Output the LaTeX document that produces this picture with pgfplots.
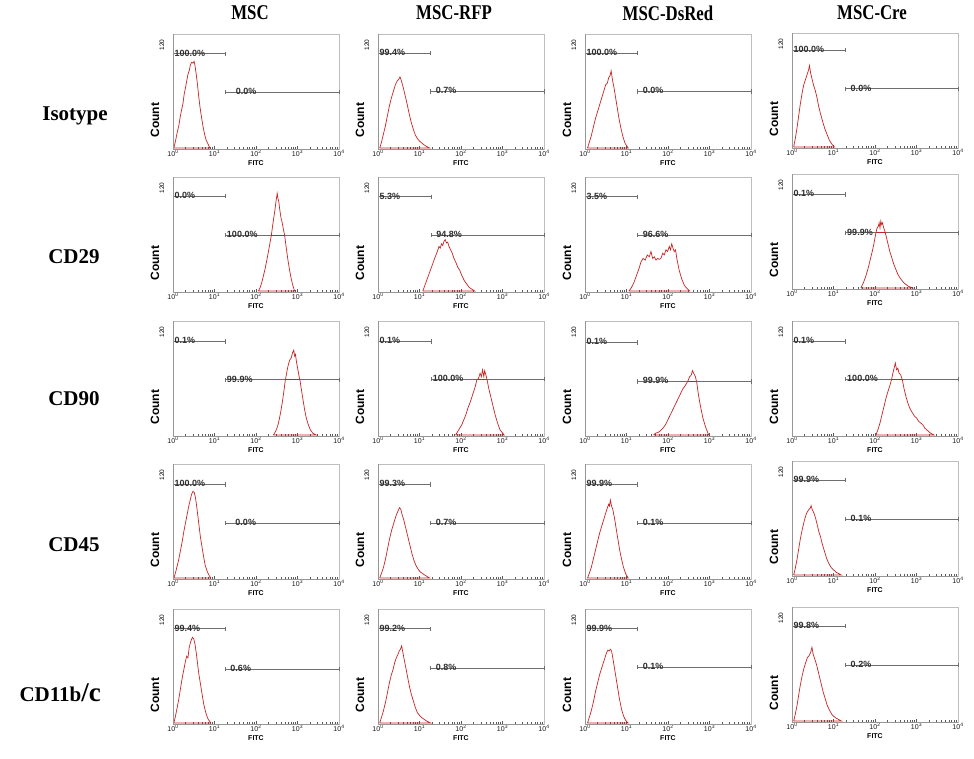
\documentclass[border=0pt]{standalone}
\usepackage{pgfplots}
\pgfplotsset{compat=1.18}
\usepackage{fontspec}
\setmainfont{Liberation Sans}
\newfontfamily\hdfont{Liberation Serif}
\definecolor{histred}{RGB}{200,35,35}
\definecolor{gatecol}{RGB}{110,110,110}
\definecolor{framecol}{RGB}{190,190,190}
\definecolor{axcol}{RGB}{150,150,150}

\tikzset{
  lbl/.style={font=\fontsize{9}{9}\selectfont\bfseries, text=black!82, anchor=west, inner sep=0pt, xshift=1.5pt, yshift=0.8pt},
  lblr/.style={lbl, xshift=3.5pt},
}
\pgfplotsset{
  panel/.style={
    scale only axis, width=166pt, height=115pt,
    xmin=0,xmax=4,ymin=-1.2,ymax=133,
    anchor=south west,
    axis line style={framecol, line width=0.6pt},
    xtick={0,1,2,3,4},
    xticklabels={10\textsuperscript{0},10\textsuperscript{1},10\textsuperscript{2},10\textsuperscript{3},10\textsuperscript{4}},
    minor xtick={0.301,0.477,0.602,0.699,0.778,0.845,0.903,0.954,
                 1.301,1.477,1.602,1.699,1.778,1.845,1.903,1.954,
                 2.301,2.477,2.602,2.699,2.778,2.845,2.903,2.954,
                 3.301,3.477,3.602,3.699,3.778,3.845,3.903,3.954},
    ytick=\empty,
    xtick pos=bottom,
    tick align=inside,
    major tick length=3.5pt, minor tick length=2.4pt,
    every tick/.style={black!65, line width=0.5pt},
    xticklabel style={font=\fontsize{7}{7}\selectfont, text=black!90, inner sep=1pt},
    clip=false,
    extra description/.code={
      \draw[axcol, line width=0.7pt] (0,1) -- (0,0) -- (1,0);
      \node[rotate=90,font=\fontsize{12}{12}\selectfont\bfseries] at (-0.108,0.25) {Count};
      \node[rotate=90,font=\fontsize{6.5}{6.5}\selectfont] at (-0.067,0.904) {120};
      \node[font=\fontsize{7}{7}\selectfont\bfseries] at (0.5,-0.125) {FITC};
    },
  },
  hist/.style={histred, line width=0.7pt, no markers},
  gate/.style={gatecol, line width=0.6pt, mark=|, mark size=2.2pt, mark options={gatecol,line width=0.6pt,solid}},
  redgate/.style={histred, line width=0.6pt, no markers},
}

\begin{document}
\begin{tikzpicture}
\useasboundingbox (0pt,0pt) rectangle (974pt,-758pt);

% column headers
\begin{scope}[every node/.style={font=\hdfont\bfseries\fontsize{21}{21}\selectfont}]
\node at (250pt,-13pt) {\scalebox{0.8}[1]{MSC}};
\node at (454pt,-13pt) {\scalebox{0.8}[1]{MSC-RFP}};
\node at (668pt,-13pt) {\scalebox{0.8}[1]{MSC-DsRed}};
\node at (872pt,-13pt) {\scalebox{0.8}[1]{MSC-Cre}};
% row labels
\node at (75pt,-116pt) {Isotype};
\node at (74pt,-257pt) {CD29};
\node at (74pt,-399pt) {CD90};
\node at (74pt,-545pt) {CD45};
\node[anchor=west] at (16pt,-693pt) {CD11b{\fontsize{27}{27}\selectfont/c}};
\end{scope}

% ================= Row 1: Isotype =================
\begin{axis}[panel, at={(173pt,-149pt)}]
\addplot[hist] coordinates {(0.02,0) (0.06,8) (0.10,18) (0.14,26) (0.18,38) (0.21,45) (0.24,52) (0.27,63) (0.30,70) (0.33,78) (0.36,86) (0.39,90) (0.42,97) (0.45,100) (0.48,99) (0.51,101) (0.53,96) (0.56,86) (0.59,74) (0.62,60) (0.65,48) (0.68,38) (0.72,26) (0.76,16) (0.80,9) (0.85,4) (0.89,0) (0.02,0)};
\addplot[gate] coordinates {(0,110) (1.27,110)};
\addplot[gate] coordinates {(1.27,65) (4,65)};
\node[lbl] at (axis cs:0,110) {100.0\%};
\node[lblr, xshift=5pt] at (axis cs:1.27,65) {0.0\%};
\end{axis}

\begin{axis}[panel, at={(378pt,-149pt)}]
\addplot[hist] coordinates {(0.04,0) (0.08,6) (0.12,14) (0.17,24) (0.22,36) (0.27,48) (0.32,58) (0.37,66) (0.42,74) (0.46,78) (0.50,80) (0.53,83) (0.56,79) (0.60,72) (0.64,64) (0.68,56) (0.72,47) (0.76,38) (0.80,30) (0.85,22) (0.90,15) (0.95,11) (1.00,8) (1.05,6) (1.10,4) (1.16,2) (1.24,0) (0.04,0)};
\addplot[gate] coordinates {(0,111) (1.27,111)};
\addplot[gate] coordinates {(1.27,66) (4,66)};
\node[lbl] at (axis cs:0,111) {99.4\%};
\node[lblr] at (axis cs:1.27,66) {0.7\%};
\end{axis}

\begin{axis}[panel, at={(585pt,-149pt)}]
\addplot[hist] coordinates {(0.06,0) (0.10,6) (0.15,14) (0.20,24) (0.25,34) (0.30,42) (0.35,50) (0.40,58) (0.45,66) (0.50,74) (0.54,76) (0.57,82) (0.60,84) (0.63,90) (0.66,80) (0.70,70) (0.74,58) (0.78,46) (0.82,34) (0.87,22) (0.92,12) (0.97,5) (1.04,0) (0.06,0)};
\addplot[gate] coordinates {(0,111) (1.27,111)};
\addplot[gate] coordinates {(1.27,66) (4,66)};
\node[lbl] at (axis cs:0,111) {100.0\%};
\node[lblr] at (axis cs:1.27,66) {0.0\%};
\end{axis}

\begin{axis}[panel, at={(792pt,-148pt)}]
\addplot[hist] coordinates {(0.04,0) (0.08,10) (0.12,22) (0.16,36) (0.20,50) (0.24,62) (0.28,72) (0.32,78) (0.36,84) (0.40,90) (0.42,95) (0.45,86) (0.48,80) (0.52,72) (0.56,66) (0.60,58) (0.64,48) (0.68,40) (0.72,33) (0.76,26) (0.80,20) (0.85,14) (0.90,8) (0.95,4) (1.02,0) (0.04,0)};
\addplot[gate] coordinates {(0,113) (1.29,113)};
\addplot[gate] coordinates {(1.29,68) (4,68)};
\node[lbl] at (axis cs:0,113) {100.0\%};
\node[lblr] at (axis cs:1.29,68) {0.0\%};
\end{axis}

% ================= Row 2: CD29 =================
\begin{axis}[panel, at={(173pt,-292pt)}]
\addplot[gate] coordinates {(0,111) (1.26,111)};
\addplot[gate] coordinates {(1.26,65) (4,65)};
\addplot[redgate] coordinates {(2.37,65) (2.69,65)};
\addplot[hist] coordinates {(2.06,0) (2.10,4) (2.14,10) (2.18,18) (2.22,26) (2.26,36) (2.30,46) (2.34,57) (2.37,65) (2.40,76) (2.43,86) (2.46,96) (2.48,104) (2.50,110) (2.51,114) (2.53,108) (2.55,104) (2.57,96) (2.60,86) (2.63,80) (2.66,72) (2.69,65) (2.73,50) (2.77,36) (2.81,24) (2.85,14) (2.89,6) (2.93,0) (2.06,0)};
\node[lbl] at (axis cs:0,111) {0.0\%};
\node[lbl] at (axis cs:1.26,65) {100.0\%};
\end{axis}

\begin{axis}[panel, at={(378pt,-292pt)}]
\addplot[hist] coordinates {(1.08,0) (1.14,8) (1.20,16) (1.26,24) (1.32,32) (1.38,40) (1.43,46) (1.47,52) (1.50,50) (1.53,55) (1.56,53) (1.59,58) (1.62,60) (1.65,56) (1.68,57) (1.71,52) (1.75,48) (1.79,44) (1.83,38) (1.87,34) (1.92,28) (1.97,24) (2.02,18) (2.08,12) (2.14,8) (2.20,4) (2.33,0) (1.08,0)};
\addplot[gate] coordinates {(0,110) (1.28,110)};
\addplot[gate] coordinates {(1.28,65) (4,65)};
\node[lbl] at (axis cs:0,110) {5.3\%};
\node[lblr] at (axis cs:1.28,65) {94.8\%};
\end{axis}

\begin{axis}[panel, at={(585pt,-292pt)}]
\addplot[hist] coordinates {(1.06,0) (1.12,4) (1.18,10) (1.24,18) (1.30,26) (1.35,34) (1.40,38) (1.45,36) (1.50,42) (1.55,40) (1.59,46) (1.63,38) (1.67,40) (1.71,36) (1.75,38) (1.79,37) (1.83,38) (1.87,44) (1.91,42) (1.95,48) (1.99,46) (2.03,52) (2.06,48) (2.09,55) (2.12,50) (2.15,46) (2.18,48) (2.22,36) (2.27,24) (2.33,14) (2.40,6) (2.52,0) (1.06,0)};
\addplot[gate] coordinates {(0,110) (1.27,110)};
\addplot[gate] coordinates {(1.27,65) (4,65)};
\node[lbl] at (axis cs:0,110) {3.5\%};
\node[lblr] at (axis cs:1.27,65) {96.6\%};
\end{axis}

\begin{axis}[panel, at={(792pt,-289pt)}]
\addplot[gate] coordinates {(0,109) (1.29,109)};
\addplot[gate] coordinates {(1.29,64.4) (4,64.4)};
\addplot[redgate] coordinates {(2.02,64.4) (2.25,64.4)};
\addplot[hist] coordinates {(1.66,0) (1.72,6) (1.78,14) (1.84,24) (1.90,36) (1.95,46) (1.99,56) (2.02,64) (2.05,70) (2.08,72) (2.10,76) (2.12,70) (2.14,78) (2.16,74) (2.18,76) (2.21,70) (2.24,66) (2.28,58) (2.32,50) (2.36,42) (2.40,36) (2.45,28) (2.50,22) (2.55,16) (2.60,12) (2.66,8) (2.72,5) (2.80,2) (2.91,0) (1.66,0)};
\node[lbl] at (axis cs:0,109) {0.1\%};
\node[lbl] at (axis cs:1.29,64.4) {99.9\%};
\end{axis}

% ================= Row 3: CD90 =================
\begin{axis}[panel, at={(173pt,-436pt)}]
\addplot[gate] coordinates {(0,109) (1.26,109)};
\addplot[gate] coordinates {(1.26,64.4) (4,64.4)};
\addplot[redgate] coordinates {(2.70,64.4) (3.06,64.4)};
\addplot[hist] coordinates {(2.42,0) (2.47,4) (2.52,10) (2.56,18) (2.60,28) (2.64,40) (2.68,54) (2.70,62) (2.73,70) (2.76,78) (2.79,84) (2.82,88) (2.85,90) (2.88,96) (2.91,99) (2.93,92) (2.95,94) (2.98,84) (3.01,76) (3.04,68) (3.06,64) (3.09,54) (3.13,42) (3.17,30) (3.21,20) (3.26,12) (3.31,6) (3.37,2) (3.45,0) (2.42,0)};
\node[lbl] at (axis cs:0,109) {0.1\%};
\node[lbl] at (axis cs:1.26,64.4) {99.9\%};
\end{axis}

\begin{axis}[panel, at={(378pt,-436pt)}]
\addplot[gate] coordinates {(0,109) (1.28,109)};
\addplot[gate] coordinates {(1.28,65) (4,65)};
\addplot[redgate] coordinates {(2.38,65) (2.63,65)};
\addplot[hist] coordinates {(1.87,0) (1.92,4) (1.97,8) (2.02,12) (2.07,18) (2.12,24) (2.17,32) (2.22,38) (2.26,44) (2.30,50) (2.34,56) (2.38,64) (2.42,66) (2.46,72) (2.49,68) (2.52,76) (2.55,68) (2.57,75) (2.60,70) (2.63,64) (2.67,54) (2.72,44) (2.77,34) (2.82,24) (2.88,14) (2.94,6) (3.04,0) (1.87,0)};
\node[lbl] at (axis cs:0,109) {0.1\%};
\node[lbl] at (axis cs:1.28,65) {100.0\%};
\end{axis}

\begin{axis}[panel, at={(585pt,-436pt)}]
\addplot[gate] coordinates {(0,108) (1.27,108)};
\addplot[gate] coordinates {(1.27,62.6) (4,62.6)};
\addplot[redgate] coordinates {(2.47,62.6) (2.69,62.6)};
\addplot[hist] coordinates {(1.65,0) (1.70,2) (1.76,3) (1.82,5) (1.88,8) (1.94,12) (2.00,18) (2.06,24) (2.12,30) (2.18,36) (2.24,42) (2.30,48) (2.36,54) (2.42,58) (2.48,63) (2.52,68) (2.56,70) (2.59,75) (2.62,72) (2.66,68) (2.69,62) (2.73,48) (2.78,34) (2.84,20) (2.90,10) (2.98,0) (1.65,0)};
\node[lbl] at (axis cs:0,108) {0.1\%};
\node[lblr] at (axis cs:1.27,62.6) {99.9\%};
\end{axis}

\begin{axis}[panel, at={(792pt,-436pt)}]
\addplot[gate] coordinates {(0,109) (1.29,109)};
\addplot[gate] coordinates {(1.29,65) (4,65)};
\addplot[redgate] coordinates {(2.40,65) (2.66,65)};
\addplot[hist] coordinates {(2.02,0) (2.07,6) (2.12,14) (2.17,24) (2.22,34) (2.27,44) (2.32,52) (2.36,58) (2.40,65) (2.43,72) (2.46,78) (2.49,84) (2.52,76) (2.55,78) (2.58,72) (2.62,70) (2.66,64) (2.70,54) (2.75,44) (2.80,36) (2.85,30) (2.90,26) (2.95,22) (3.00,20) (3.05,16) (3.10,14) (3.15,12) (3.20,8) (3.27,5) (3.34,2) (3.42,0) (2.02,0)};
\node[lbl] at (axis cs:0,109) {0.1\%};
\node[lbl] at (axis cs:1.29,65) {100.0\%};
\end{axis}

% ================= Row 4: CD45 =================
\begin{axis}[panel, at={(173pt,-579pt)}]
\addplot[hist] coordinates {(0.02,0) (0.06,6) (0.10,14) (0.14,22) (0.18,32) (0.22,42) (0.26,54) (0.30,64) (0.34,74) (0.38,84) (0.42,92) (0.45,98) (0.48,101) (0.51,100) (0.54,94) (0.57,84) (0.60,72) (0.63,60) (0.66,48) (0.70,36) (0.74,24) (0.78,14) (0.83,7) (0.87,3) (0.91,0) (0.02,0)};
\addplot[gate] coordinates {(0,109) (1.26,109)};
\addplot[gate] coordinates {(1.26,64) (4,64)};
\node[lbl] at (axis cs:0,109) {100.0\%};
\node[lblr, xshift=5pt] at (axis cs:1.26,64) {0.0\%};
\end{axis}

\begin{axis}[panel, at={(378pt,-579pt)}]
\addplot[hist] coordinates {(0.04,0) (0.08,5) (0.13,12) (0.18,22) (0.23,34) (0.28,46) (0.33,56) (0.38,64) (0.43,72) (0.48,78) (0.52,82) (0.55,80) (0.58,74) (0.62,68) (0.66,60) (0.70,52) (0.74,44) (0.78,36) (0.82,28) (0.87,20) (0.92,14) (0.97,10) (1.02,7) (1.08,5) (1.14,3) (1.24,0) (0.04,0)};
\addplot[gate] coordinates {(0,109) (1.27,109)};
\addplot[gate] coordinates {(1.27,64) (4,64)};
\node[lbl] at (axis cs:0,109) {99.3\%};
\node[lblr] at (axis cs:1.27,64) {0.7\%};
\end{axis}

\begin{axis}[panel, at={(585pt,-579pt)}]
\addplot[hist] coordinates {(0.06,0) (0.10,5) (0.15,12) (0.20,22) (0.25,32) (0.30,42) (0.35,52) (0.40,60) (0.45,68) (0.50,76) (0.54,82) (0.57,86) (0.59,84) (0.61,91) (0.64,84) (0.67,80) (0.71,70) (0.75,58) (0.79,46) (0.83,34) (0.88,22) (0.93,12) (0.98,5) (1.04,0) (0.06,0)};
\addplot[gate] coordinates {(0,109) (1.27,109)};
\addplot[gate] coordinates {(1.27,64) (4,64)};
\node[lbl] at (axis cs:0,109) {99.9\%};
\node[lblr] at (axis cs:1.27,64) {0.1\%};
\end{axis}

\begin{axis}[panel, at={(792pt,-576pt)}]
\addplot[hist] coordinates {(0.04,0) (0.08,8) (0.12,18) (0.16,30) (0.20,42) (0.25,54) (0.30,64) (0.35,72) (0.40,76) (0.44,78) (0.46,81) (0.49,76) (0.53,72) (0.57,66) (0.61,58) (0.65,50) (0.69,44) (0.73,36) (0.78,28) (0.83,20) (0.88,14) (0.94,9) (1.00,6) (1.07,3) (1.19,0) (0.04,0)};
\addplot[gate] coordinates {(0,111) (1.29,111)};
\addplot[gate] coordinates {(1.29,65) (4,65)};
\node[lbl] at (axis cs:0,111) {99.9\%};
\node[lblr] at (axis cs:1.29,65) {0.1\%};
\end{axis}

% ================= Row 5: CD11b/c =================
\begin{axis}[panel, at={(173pt,-724pt)}]
\addplot[hist] coordinates {(0.02,0) (0.06,8) (0.10,18) (0.14,28) (0.18,40) (0.22,52) (0.26,62) (0.30,72) (0.33,78) (0.36,76) (0.39,88) (0.42,94) (0.45,98) (0.47,100) (0.50,98) (0.53,92) (0.56,82) (0.59,70) (0.62,58) (0.66,46) (0.70,34) (0.74,22) (0.79,12) (0.84,5) (0.91,0) (0.02,0)};
\addplot[gate] coordinates {(0,110) (1.26,110)};
\addplot[gate] coordinates {(1.26,63) (4,63)};
\node[lbl] at (axis cs:0,110) {99.4\%};
\node[lblr] at (axis cs:1.26,63) {0.6\%};
\end{axis}

\begin{axis}[panel, at={(378pt,-724pt)}]
\addplot[hist] coordinates {(0.04,0) (0.08,6) (0.13,14) (0.18,24) (0.23,36) (0.28,48) (0.32,56) (0.36,62) (0.40,70) (0.44,76) (0.48,80) (0.51,84) (0.54,86) (0.57,90) (0.60,82) (0.64,72) (0.68,62) (0.72,52) (0.76,42) (0.80,34) (0.85,26) (0.90,18) (0.95,12) (1.00,9) (1.06,6) (1.12,4) (1.18,2) (1.27,0) (0.04,0)};
\addplot[gate] coordinates {(0,110) (1.27,110)};
\addplot[gate] coordinates {(1.27,64) (4,64)};
\node[lbl] at (axis cs:0,110) {99.2\%};
\node[lblr] at (axis cs:1.27,64) {0.8\%};
\end{axis}

\begin{axis}[panel, at={(585pt,-724pt)}]
\addplot[hist] coordinates {(0.06,0) (0.10,6) (0.15,14) (0.20,24) (0.25,36) (0.30,46) (0.35,56) (0.40,64) (0.44,70) (0.48,76) (0.52,82) (0.55,85) (0.58,84) (0.61,86) (0.64,84) (0.67,76) (0.71,64) (0.75,52) (0.79,40) (0.83,28) (0.88,16) (0.93,8) (0.98,3) (1.04,0) (0.06,0)};
\addplot[gate] coordinates {(0,110) (1.27,110)};
\addplot[gate] coordinates {(1.27,65) (4,65)};
\node[lbl] at (axis cs:0,110) {99.9\%};
\node[lblr] at (axis cs:1.27,65) {0.1\%};
\end{axis}

\begin{axis}[panel, at={(792pt,-722pt)}]
\addplot[hist] coordinates {(0.04,0) (0.08,8) (0.12,18) (0.16,30) (0.20,42) (0.25,54) (0.29,62) (0.33,68) (0.37,74) (0.41,76) (0.45,80) (0.48,86) (0.51,78) (0.55,72) (0.59,66) (0.63,58) (0.67,50) (0.71,42) (0.75,34) (0.80,26) (0.85,18) (0.91,12) (0.97,7) (1.04,4) (1.19,0) (0.04,0)};
\addplot[gate] coordinates {(0,111) (1.29,111)};
\addplot[gate] coordinates {(1.29,65) (4,65)};
\node[lbl] at (axis cs:0,111) {99.8\%};
\node[lblr] at (axis cs:1.29,65) {0.2\%};
\end{axis}

\end{tikzpicture}
\end{document}
